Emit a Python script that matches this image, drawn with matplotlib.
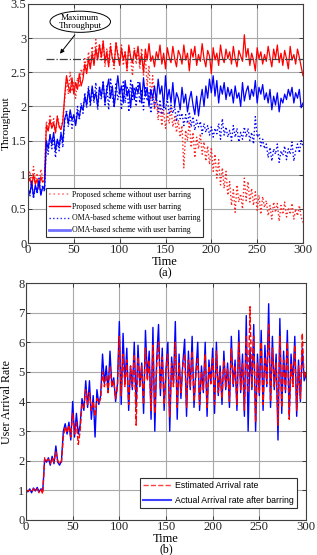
import matplotlib
matplotlib.use("Agg")
import matplotlib.pyplot as plt
from matplotlib.patches import Ellipse
from matplotlib.lines import Line2D
import numpy as np

# ---------------- data ----------------
time_top = list(range(0, 301, 2))

prop_barring = [
    0.88, 0.95, 0.82, 1.00, 0.86, 0.93, 0.80, 0.97, 0.89, 0.92,
    1.72, 1.64, 1.80, 1.68, 1.76, 1.62, 1.85, 1.70, 1.66, 1.78,
    2.15, 2.45, 2.30, 2.20, 2.42, 2.18, 2.35, 2.25, 2.48, 2.30,
    2.40, 2.62, 2.48, 2.70, 2.55, 2.78, 2.60, 2.85, 2.68, 2.90,
    2.72, 2.95, 2.65, 2.80, 2.58, 2.88, 2.70, 2.62, 2.93, 2.75,
    2.60, 2.85, 2.68, 2.78, 2.55, 2.90, 2.72, 2.64, 2.82, 2.70,
    2.88, 2.62, 2.76, 2.50, 2.84, 2.68, 2.92, 2.66, 2.74, 2.58,
    2.80, 2.70, 2.90, 2.62, 2.78, 2.55, 2.86, 2.72, 2.64, 2.88,
    2.70, 2.58, 2.82, 2.75, 2.62, 2.90, 2.68, 2.78, 2.52, 2.84,
    2.72, 2.88, 2.60, 2.76, 2.66, 2.92, 2.70, 2.58, 2.82, 2.74,
    2.48, 2.86, 2.68, 2.78, 2.60, 2.90, 2.72, 2.64, 2.84, 2.70,
    2.80, 2.62, 2.88, 2.70, 2.58, 2.82, 2.74, 2.66, 3.05, 2.72,
    2.85, 2.60, 2.78, 2.68, 2.52, 2.86, 2.70, 2.80, 2.62, 2.76,
    2.66, 2.88, 2.72, 2.58, 2.84, 2.70, 2.90, 2.64, 2.78, 2.60,
    2.82, 2.70, 2.55, 2.88, 2.68, 2.76, 2.62, 2.84, 2.72, 2.58,
    2.45]

oma_barring = [
    0.80, 0.72, 0.88, 0.68, 0.85, 0.75, 0.92, 0.70, 0.82, 0.78,
    1.50, 1.38, 1.58, 1.45, 1.62, 1.35, 1.52, 1.42, 1.60, 1.48,
    1.82, 1.90, 1.75, 1.95, 1.80, 1.88, 1.72, 1.92, 1.85, 2.00,
    1.95, 2.15, 2.02, 2.25, 2.05, 2.30, 2.10, 2.20, 2.00, 2.28,
    2.15, 2.35, 2.05, 2.25, 2.40, 2.12, 2.30, 2.00, 2.22, 2.45,
    2.18, 2.30, 2.05, 2.38, 2.15, 2.25, 1.98, 2.32, 2.10, 2.28,
    2.20, 2.35, 2.05, 2.42, 2.15, 2.28, 2.00, 2.25, 2.12, 2.30,
    2.08, 2.40, 2.18, 2.30, 1.98, 2.45, 2.10, 2.25, 2.05, 2.35,
    2.00, 2.20, 2.12, 1.95, 2.28, 2.05, 2.18, 1.92, 2.10, 2.22,
    2.02, 1.88, 2.15, 1.86, 2.08, 2.25, 2.00, 2.30, 2.12, 2.40,
    2.20, 2.45, 2.15, 2.38, 2.05, 2.30, 2.18, 2.35, 2.10, 2.28,
    2.15, 2.25, 2.05, 2.30, 2.12, 2.20, 2.00, 2.35, 2.08, 2.22,
    2.30, 2.10, 2.25, 2.15, 2.38, 2.05, 2.28, 2.18, 2.32, 2.10,
    2.20, 2.05, 2.25, 1.95, 2.15, 2.02, 2.20, 1.92, 2.12, 2.05,
    2.18, 2.10, 2.25, 2.15, 2.28, 2.05, 2.20, 2.12, 2.25, 1.98,
    2.05]

prop_no_barring = [
    0.92, 1.05, 0.85, 1.12, 0.90, 1.02, 0.83, 1.08, 0.95, 0.98,
    1.78, 1.65, 1.88, 1.70, 1.82, 1.60, 1.86, 1.72, 1.68, 1.80,
    2.10, 2.40, 2.18, 2.50, 2.22, 2.35, 2.12, 2.42, 2.28, 2.55,
    2.45, 2.70, 2.52, 2.80, 2.60, 2.88, 2.62, 2.98, 2.70, 2.92,
    2.68, 2.96, 2.58, 2.85, 2.62, 2.92, 2.72, 2.55, 2.95, 2.78,
    2.65, 2.90, 2.60, 2.82, 2.50, 2.88, 2.70, 2.45, 2.86, 2.62,
    2.80, 2.55, 2.85, 2.45, 2.75, 2.30, 2.60, 2.10, 2.45, 1.95,
    2.10, 1.80, 2.02, 1.72, 1.95, 1.68, 1.90, 1.75, 1.98, 1.70,
    1.85, 1.62, 1.80, 1.55, 1.72, 1.10, 1.65, 1.50, 1.78, 1.40,
    1.62, 1.25, 1.55, 1.38, 1.60, 1.30, 1.48, 1.20, 1.42, 1.15,
    1.40, 1.05, 1.30, 0.95, 1.22, 0.85, 1.10, 0.80, 1.05, 0.70,
    0.90, 0.55, 0.78, 0.45, 0.85, 0.60, 0.72, 0.50, 0.95, 0.62,
    0.90, 0.60, 0.80, 0.55, 0.75, 0.48, 0.70, 0.42, 0.68, 0.52,
    0.62, 0.40, 0.55, 0.35, 0.60, 0.45, 0.58, 0.32, 0.55, 0.42,
    0.60, 0.38, 0.52, 0.42, 0.58, 0.35, 0.50, 0.40, 0.55, 0.38,
    0.30]

oma_no_barring = [
    0.78, 0.68, 0.90, 0.65, 0.82, 0.72, 0.95, 0.70, 0.85, 0.75,
    1.45, 1.30, 1.60, 1.38, 1.55, 1.25, 1.50, 1.35, 1.62, 1.40,
    1.78, 1.95, 1.70, 1.90, 1.68, 1.85, 1.75, 2.00, 1.80, 2.05,
    1.90, 2.20, 1.98, 2.30, 2.00, 2.25, 2.05, 2.35, 1.95, 2.28,
    2.10, 2.38, 2.00, 2.30, 1.95, 2.42, 2.15, 1.98, 2.35, 2.10,
    2.25, 1.95, 2.38, 2.05, 2.30, 1.92, 2.40, 2.10, 2.28, 2.00,
    2.35, 2.05, 2.25, 1.95, 2.30, 2.08, 2.20, 1.90, 2.15, 2.00,
    2.15, 1.92, 2.10, 1.88, 2.05, 1.95, 2.12, 1.88, 2.02, 1.90,
    2.00, 1.78, 1.95, 1.82, 1.90, 1.72, 1.88, 1.75, 1.92, 1.70,
    1.85, 1.65, 1.80, 1.70, 1.78, 1.60, 1.75, 1.62, 1.72, 1.58,
    1.70, 1.55, 1.68, 1.60, 1.75, 1.52, 1.82, 1.58, 1.70, 1.55,
    1.65, 1.50, 1.72, 1.55, 1.68, 1.48, 1.62, 1.52, 1.70, 1.55,
    1.68, 1.50, 1.62, 1.45, 1.85, 1.55, 1.60, 1.42, 1.52, 1.38,
    1.45, 1.25, 1.40, 1.20, 1.38, 1.30, 1.45, 1.18, 1.35, 1.28,
    1.42, 1.22, 1.38, 1.30, 1.48, 1.20, 1.35, 1.45, 1.32, 1.50,
    1.42]

max_throughput = 2.7

time_bot = list(range(0, 301, 2))

actual_rate = [
    1.00, 0.95, 1.05, 0.92, 1.08, 0.98, 1.10, 0.95, 1.05, 1.02,
    2.05, 1.95, 2.10, 1.85, 2.15, 1.90, 2.50, 1.95, 1.85, 2.00,
    3.00, 3.25, 2.90, 3.30, 2.70, 4.00, 2.80, 3.60, 2.90, 3.20,
    4.10, 3.70, 4.70, 3.80, 4.70, 3.40, 4.20, 2.80, 4.40, 3.90,
    4.20, 5.60, 4.60, 5.20, 4.30, 5.70, 4.50, 4.80, 4.00, 4.60,
    6.70, 3.90, 6.30, 4.60, 5.80, 3.70, 5.20, 4.40, 6.00, 3.80,
    5.90, 4.50, 5.30, 3.60, 6.40, 4.80, 5.70, 3.40, 6.50, 3.00,
    5.40, 6.60, 4.20, 5.80, 3.70, 5.10, 6.00, 3.00, 5.50, 4.60,
    6.70, 3.40, 5.60, 4.10, 5.30, 6.10, 3.50, 5.70, 4.40, 6.20,
    3.80, 5.00, 6.00, 3.70, 5.20, 4.30, 6.00, 3.50, 5.40, 4.60,
    5.80, 3.60, 6.00, 4.20, 5.20, 3.90, 5.70, 4.40, 5.30, 3.80,
    6.20, 4.50, 5.40, 3.70, 6.40, 4.30, 5.60, 3.50, 6.90, 3.00,
    5.80, 4.40, 6.60, 3.00, 5.60, 4.20, 6.40, 3.70, 5.90, 4.50,
    7.30, 3.80, 6.20, 4.40, 5.60, 2.70, 6.80, 3.60, 5.70, 4.30,
    6.40, 3.50, 5.60, 4.60, 6.20, 3.50, 5.40, 4.00, 5.80, 4.70,
    4.90]

estimated_rate = [
    1.02, 0.98, 1.00, 0.95, 1.05, 1.00, 1.06, 0.92, 1.02, 0.88,
    2.10, 2.00, 2.05, 1.90, 2.10, 1.95, 2.30, 2.00, 1.90, 1.95,
    2.80, 3.15, 2.95, 3.20, 2.80, 3.60, 2.90, 3.30, 2.55, 3.00,
    3.90, 3.80, 4.40, 3.90, 4.30, 3.70, 4.00, 3.50, 4.10, 3.95,
    4.10, 5.00, 4.50, 4.90, 4.30, 5.20, 4.50, 4.70, 4.10, 4.50,
    6.20, 4.20, 5.60, 4.50, 5.40, 3.90, 5.20, 4.50, 5.60, 3.20,
    5.50, 4.50, 5.20, 3.90, 5.80, 4.70, 5.40, 3.70, 5.90, 3.60,
    5.20, 6.00, 4.40, 5.50, 3.90, 5.00, 5.60, 3.50, 5.30, 4.50,
    6.00, 3.80, 5.30, 4.30, 5.20, 5.60, 3.80, 5.40, 4.50, 5.70,
    4.00, 4.90, 5.50, 3.90, 5.00, 4.40, 5.60, 3.80, 5.20, 4.60,
    5.50, 3.90, 5.70, 4.30, 5.00, 4.10, 5.40, 4.50, 5.10, 4.00,
    5.80, 4.60, 5.20, 3.90, 6.00, 4.40, 5.30, 3.70, 6.20, 4.30,
    7.20, 4.50, 6.20, 3.30, 5.30, 4.30, 6.00, 3.90, 5.50, 4.60,
    6.60, 4.00, 5.80, 4.50, 5.30, 3.20, 6.20, 3.80, 5.40, 4.40,
    6.00, 3.40, 5.30, 4.50, 5.90, 3.70, 5.20, 4.10, 6.30, 4.80,
    5.00]

x_ticks = [0, 50, 100, 150, 200, 250, 300]
top_yticks = [0, 0.5, 1, 1.5, 2, 2.5, 3, 3.5]
bot_yticks = [0, 1, 2, 3, 4, 5, 6, 7, 8]

legend_top = ["Proposed scheme without user barring",
              "Proposed scheme with user barring",
              "OMA-based scheme without user barring",
              "OMA-based scheme with user barring"]
legend_bot = ["Estimated Arrival rate", "Actual Arrival rate after barring"]

# ---------------- figure ----------------
W, H = 317, 555
fig = plt.figure(figsize=(W / 100, H / 100), dpi=100)
serif = ["Liberation Serif", "DejaVu Serif"]
sans = ["Liberation Sans", "DejaVu Sans"]
plt.rcParams['font.family'] = serif

def px_axes(l, r, t, b):
    return fig.add_axes([l / W, 1 - b / H, (r - l) / W, (b - t) / H])

def style(ax, yt):
    ax.set_xlim(0, 300)
    ax.set_xticks(x_ticks)
    ax.set_yticks(yt)
    ax.set_ylim(yt[0], yt[-1])
    ax.grid(True, color="#a8a8a8", lw=0.8)
    ax.set_axisbelow(True)
    ax.tick_params(direction="in", top=True, right=True, length=3,
                   width=0.6, labelsize=9.2, colors="#262626", pad=1.2)
    ax.tick_params(axis="x", pad=0.6)
    ax.tick_params(axis="y", labelsize=9.0, pad=1.0)
    for s in ax.spines.values():
        s.set_color("#404040")
        s.set_linewidth(0.8)

def ftext(x, y, s, **kw):
    fig.text(x / W, 1 - y / H, s, ha="center", va="center", **kw)

# ---- top panel ----
ax1 = px_axes(28, 303, 4, 243)
style(ax1, top_yticks)
ax1.set_yticklabels(["0", "0.5", "1", "1.5", "2", "2.5", "3", "3.5"])
ax1.plot(time_top, prop_no_barring, color="#ff2020", ls=":", lw=1.0)
ax1.plot(time_top, prop_barring, color="#ff0000", ls="-", lw=0.9)
ax1.plot(time_top, oma_no_barring, color="#0000ff", ls=":", lw=1.0)
ax1.plot(time_top, oma_barring, color="#0000ff", ls="-", lw=0.9)
ax1.plot([20, 300], [max_throughput, max_throughput], color="#404040",
         ls="-.", lw=0.9)
ell = Ellipse((57, 3.24), 66, 0.31, facecolor="white", edgecolor="black",
              lw=0.7, zorder=5)
ax1.add_patch(ell)
ax1.text(57, 3.24, "Maximum\nThroughput", ha="center", va="center",
         fontsize=6.6, zorder=6, linespacing=1.0)
ax1.annotate("", xy=(33, 2.74), xytext=(53, 3.08),
             arrowprops=dict(arrowstyle="-|>", color="black", lw=0.7,
                             mutation_scale=6), zorder=6)
h1 = [Line2D([], [], color="#ff8080", ls=":", lw=1.2),
      Line2D([], [], color="#ff0000", ls="-", lw=1.0),
      Line2D([], [], color="#2020ff", ls=":", lw=1.0),
      Line2D([], [], color="#7070ff", ls="-", lw=2.0)]
leg1 = ax1.legend(h1, legend_top, loc="lower left",
                  bbox_to_anchor=(0.066, 0.025), borderaxespad=0,
                  fontsize=5.6, handlelength=2.7, handletextpad=0.3,
                  labelspacing=0.5, borderpad=0.35, fancybox=False,
                  framealpha=1, edgecolor="#303030")
leg1.get_frame().set_linewidth(0.8)
ftext(5.8, 123.5, "Throughput", fontsize=8.2, rotation=90)
ftext(165, 262, "Time", fontsize=9)
ftext(165, 273.5, "(a)", fontsize=9)

# ---- bottom panel ----
ax2 = px_axes(26, 306, 283, 520)
style(ax2, bot_yticks)
ax2.plot(time_bot, actual_rate, color="#0000ff", ls="-", lw=1.0)
ax2.plot(time_bot, estimated_rate, color="#ff0000", ls="--", lw=1.0)
h2 = [Line2D([], [], color="#ff4040", ls="--", lw=1.0),
      Line2D([], [], color="#4040ff", ls="-", lw=1.5)]
leg2 = ax2.legend(h2, legend_bot, loc="lower right",
                  bbox_to_anchor=(0.968, 0.05), borderaxespad=0,
                  prop={"family": sans, "size": 6.3}, handlelength=3.2,
                  handletextpad=0.4, labelspacing=0.6, borderpad=0.4,
                  fancybox=False, framealpha=1, edgecolor="#303030")
leg2.get_frame().set_linewidth(0.8)
ftext(7.0, 401.5, "User Arrival Rate", fontsize=8.6, rotation=90)
ftext(166, 538.5, "Time", fontsize=9)
ftext(166, 549.5, "(b)", fontsize=8.6)

fig.savefig("out.png", dpi=100)
